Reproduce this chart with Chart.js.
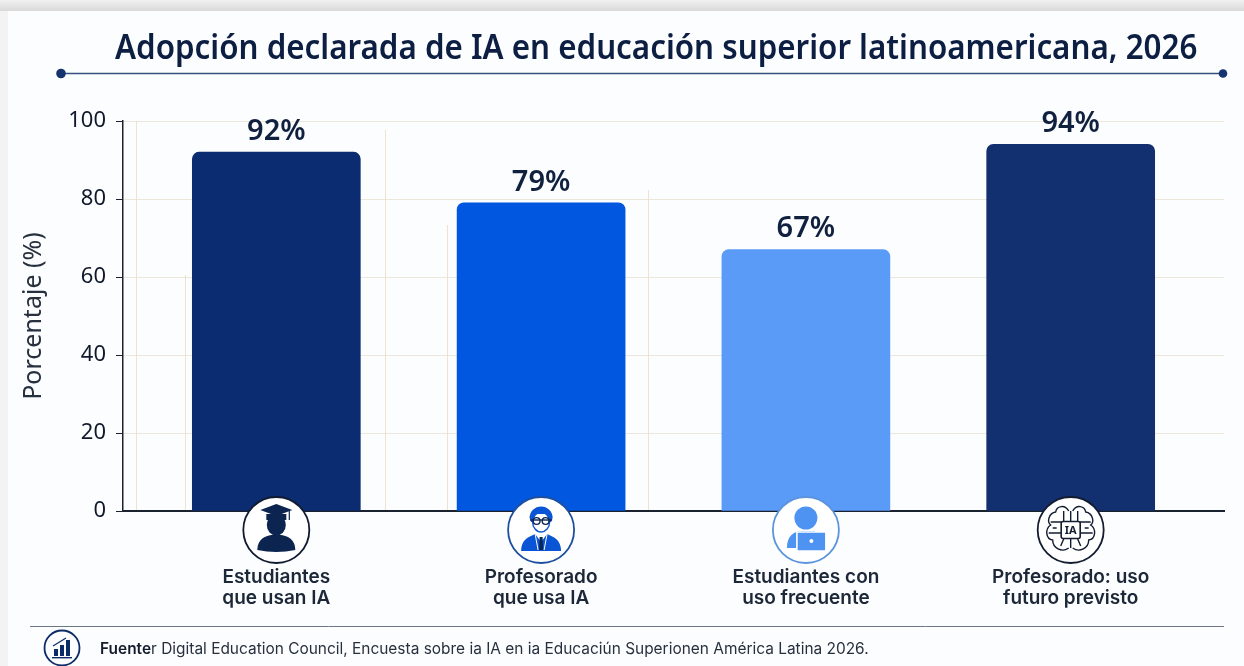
<!DOCTYPE html>
<html lang="es">
<head>
<meta charset="utf-8">
<style>
html,body{margin:0;padding:0;width:1244px;height:666px;overflow:hidden;background:#f3f3f3}
#band{position:absolute;left:0;top:0;width:1244px;height:11px;background:linear-gradient(#f1f1f1,#d9d9d9)}
#card{position:absolute;left:8px;top:11px;width:1236px;height:655px;background:#fcfdfe}
canvas{position:absolute;left:0;top:0}
#title{position:absolute;left:115px;top:23px;margin:0;font:600 34.5px "Noto Sans",sans-serif;color:#0c1e42;white-space:nowrap;line-height:46px;transform-origin:0 50%;transform:scaleX(.908)}
#source{position:absolute;left:100px;top:639px;font:400 15.45px "Inter","Noto Sans",sans-serif;color:#27303e;white-space:nowrap;line-height:20px}
#source b{font-weight:600;color:#141c2c}
</style>
</head>
<body>
<div id="band"></div>
<div id="card"></div>
<canvas id="c" width="1244" height="666"></canvas>
<h1 id="title">Adopción declarada de IA en educación superior latinoamericana, 2026</h1>
<div id="source"><b>Fuente</b>r Digital Education Council, Encuesta sobre ia IA en ia Educaciún Superionen América Latina 2026.</div>
<script src="https://cdn.jsdelivr.net/npm/chart.js@4/dist/chart.umd.min.js"></script>
<script>
const categories = [
  ["Estudiantes", "que usan IA"],
  ["Profesorado", "que usa IA"],
  ["Estudiantes con", "uso frecuente"],
  ["Profesorado: uso", "futuro previsto"]
];
const values = [92, 79, 67, 94];
const valueLabels = ["92%", "79%", "67%", "94%"];
const barColors = ["#0b2c70", "#0257e0", "#5a9bf8", "#12306f"];
const yTicks = [0, 20, 40, 60, 80, 100];

const NAVY = "#0b2c66", INK = "#10203f";

function circle(ctx, x, y, r) { ctx.beginPath(); ctx.arc(x, y, r, 0, Math.PI * 2); }

function iconStudent(ctx) {
  ctx.fillStyle = "#0c2550";
  ctx.beginPath(); ctx.moveTo(-16, -20); ctx.lineTo(0, -26); ctx.lineTo(16, -20); ctx.lineTo(0, -14); ctx.closePath(); ctx.fill();
  ctx.beginPath(); ctx.moveTo(-10, -16); ctx.lineTo(10, -16); ctx.lineTo(10, -10); ctx.lineTo(-10, -10); ctx.closePath(); ctx.fill();
  ctx.strokeStyle = "#0c2550"; ctx.lineWidth = 1.2;
  ctx.beginPath(); ctx.moveTo(13, -19); ctx.lineTo(13, -10); ctx.stroke();
  ctx.beginPath(); ctx.ellipse(0, -5, 9.5, 10.5, 0, 0, Math.PI * 2); ctx.fill();
  ctx.beginPath(); ctx.moveTo(-19, 20); ctx.bezierCurveTo(-19, 9, -11, 6, -5, 5); ctx.lineTo(5, 5); ctx.bezierCurveTo(11, 6, 19, 9, 19, 20);
  ctx.quadraticCurveTo(0, 24, -19, 20); ctx.fill();
}
function iconProfessor(ctx) {
  const blue = "#0a55d6";
  ctx.fillStyle = blue; ctx.strokeStyle = blue;
  ctx.beginPath(); ctx.arc(0, -12, 11.5, Math.PI, 0); ctx.lineTo(10, -8); ctx.lineTo(-10, -8); ctx.closePath(); ctx.fill();
  ctx.fillStyle = "#ffffff"; ctx.beginPath(); ctx.ellipse(0, -8, 8.5, 10, 0, 0, Math.PI * 2); ctx.fill();
  ctx.strokeStyle = blue; ctx.lineWidth = 1.4; ctx.stroke();
  ctx.fillStyle = blue; ctx.beginPath(); ctx.ellipse(0, -16, 9, 4, 0, Math.PI, 0); ctx.fill();
  ctx.strokeStyle = "#0c2550"; ctx.lineWidth = 1.4;
  circle(ctx, -4.5, -9, 3.4); ctx.stroke(); circle(ctx, 4.5, -9, 3.4); ctx.stroke();
  ctx.beginPath(); ctx.moveTo(-11, -10); ctx.lineTo(11, -10); ctx.stroke();
  ctx.fillStyle = blue;
  ctx.beginPath(); ctx.moveTo(-20, 21); ctx.bezierCurveTo(-20, 10, -13, 7, -6, 4); ctx.lineTo(0, 12); ctx.lineTo(6, 4); ctx.bezierCurveTo(13, 7, 20, 10, 20, 21); ctx.closePath(); ctx.fill();
  ctx.strokeStyle = "#ffffff"; ctx.lineWidth = 1;
  ctx.beginPath(); ctx.moveTo(-6, 4); ctx.lineTo(-3, 20); ctx.moveTo(6, 4); ctx.lineTo(3, 20); ctx.stroke();
  ctx.fillStyle = "#0c2550"; ctx.beginPath(); ctx.moveTo(-1.5, 7); ctx.lineTo(1.5, 7); ctx.lineTo(2, 20); ctx.lineTo(-2, 20); ctx.closePath(); ctx.fill();
}
function iconLaptop(ctx) {
  const blue = "#4f93f2";
  ctx.fillStyle = blue;
  circle(ctx, 0, -12, 11.5); ctx.fill();
  ctx.beginPath(); ctx.moveTo(-19, 18); ctx.bezierCurveTo(-19, 6, -12, 1, -4, 1); ctx.lineTo(9, 1); ctx.lineTo(12, 18); ctx.closePath(); ctx.fill();
  ctx.strokeStyle = "#ffffff"; ctx.lineWidth = 1.6;
  ctx.fillStyle = blue; ctx.beginPath(); ctx.rect(-9, 2, 29, 19); ctx.fill(); ctx.stroke();
  ctx.fillStyle = "#ffffff"; circle(ctx, 5.5, 11, 2); ctx.fill();
}
function iconBrain(ctx) {
  ctx.strokeStyle = "#131c30"; ctx.lineWidth = 1.4; ctx.fillStyle = "#131c30";
  [-1, 1].forEach(s => {
    ctx.beginPath();
    ctx.moveTo(s * 2, -19);
    ctx.bezierCurveTo(s * 6, -26, s * 14, -24, s * 15, -18);
    ctx.bezierCurveTo(s * 22, -17, s * 24, -8, s * 20, -5);
    ctx.bezierCurveTo(s * 26, -1, s * 25, 9, s * 18, 10);
    ctx.bezierCurveTo(s * 18, 18, s * 9, 23, s * 2, 18);
    ctx.stroke();
    ctx.beginPath();
    ctx.moveTo(s * 9, -8); ctx.lineTo(s * 20, -8);
    ctx.moveTo(s * 9, 3); ctx.lineTo(s * 22, 3);
    ctx.moveTo(s * 7, 9); ctx.lineTo(s * 10, 16);
    ctx.moveTo(s * 7, -9); ctx.lineTo(s * 7, -19);
    ctx.moveTo(s * 14, -2); ctx.lineTo(s * 18, -2);
    ctx.stroke();
  });
  ctx.beginPath(); ctx.moveTo(0, -19); ctx.lineTo(0, -9); ctx.moveTo(0, 9); ctx.lineTo(0, 18); ctx.stroke();
  ctx.fillStyle = "#ffffff"; ctx.lineWidth = 1.6;
  ctx.beginPath(); ctx.roundRect(-9.5, -8.5, 19, 17, 2); ctx.fill(); ctx.stroke();
  ctx.fillStyle = "#131c30"; ctx.font = "700 11px 'Noto Sans'"; ctx.textAlign = "center"; ctx.textBaseline = "middle";
  ctx.fillText("IA", 0, 0.5);
}
const iconDrawers = [iconStudent, iconProfessor, iconLaptop, iconBrain];
const iconRings = ["#101a30", "#1d4f9e", "#5b94dc", "#131c30"];

const pagePlugin = {
  id: "pageDecor",
  beforeDraw(chart) {
    const ctx = chart.ctx;
    ctx.save();
    ctx.strokeStyle = "rgba(232,215,185,0.7)"; ctx.lineWidth = 1;
    [[136, 121], [185, 275], [385, 130], [447, 225], [648, 190]].forEach(g => {
      ctx.beginPath(); ctx.moveTo(g[0] + .5, g[1]); ctx.lineTo(g[0] + .5, 511); ctx.stroke();
    });
    ctx.strokeStyle = "#33507e"; ctx.lineWidth = 1.4;
    ctx.beginPath(); ctx.moveTo(61, 73.5); ctx.lineTo(1223, 73.5); ctx.stroke();
    ctx.fillStyle = "#14336f";
    circle(ctx, 61, 73.5, 4.8); ctx.fill();
    circle(ctx, 1223, 73.5, 4.3); ctx.fill();
    ctx.strokeStyle = "#6d7886"; ctx.lineWidth = 1;
    ctx.beginPath(); ctx.moveTo(30, 626.5); ctx.lineTo(1224, 626.5); ctx.stroke();
    ctx.strokeStyle = NAVY; ctx.lineWidth = 1.8;
    circle(ctx, 62, 648, 17.5); ctx.stroke();
    ctx.fillStyle = NAVY;
    ctx.fillRect(54, 649, 4, 7); ctx.fillRect(60, 645, 4, 11); ctx.fillRect(66, 640, 4, 16);
    ctx.fillRect(52, 657, 20, 1.4);
    ctx.lineWidth = 1.3;
    ctx.beginPath(); ctx.moveTo(53, 646); ctx.lineTo(66, 638); ctx.stroke();
    ctx.restore();
  },
  afterDraw(chart) {
    const ctx = chart.ctx, xs = chart.scales.x;
    ctx.save();
    categories.forEach((_, i) => {
      const x = xs.getPixelForValue(i), y = 530;
      ctx.save();
      ctx.fillStyle = "#ffffff"; ctx.strokeStyle = iconRings[i]; ctx.lineWidth = 1.8;
      circle(ctx, x, y, 33); ctx.fill(); ctx.stroke();
      ctx.translate(x, y);
      iconDrawers[i](ctx);
      ctx.restore();
    });
    const meta = chart.getDatasetMeta(0);
    ctx.font = "600 29px 'Noto Sans'"; ctx.fillStyle = INK; ctx.textAlign = "center"; ctx.textBaseline = "middle";
    meta.data.forEach((bar, i) => ctx.fillText(valueLabels[i], bar.x, bar.y - 20.5));
    ctx.restore();
  }
};

new Chart(document.getElementById("c"), {
  type: "bar",
  data: {
    labels: categories,
    datasets: [{
      label: "Porcentaje (%)",
      data: values.map((v, i) => ({ x: i, y: v })),
      backgroundColor: barColors,
      barThickness: 168,
      borderRadius: 7,
      borderSkipped: "bottom"
    }]
  },
  plugins: [pagePlugin],
  options: {
    responsive: false,
    animation: false,
    layout: { padding: { top: 121, right: 20, left: 0, bottom: 0 } },
    plugins: { legend: { display: false }, title: { display: false }, tooltip: { enabled: false } },
    scales: {
      x: {
        type: "linear",
        offset: false,
        min: -0.579,
        max: 3.579,
        afterBuildTicks(s) { s.ticks = categories.map((_, i) => ({ value: i })); },
        afterFit(s) { s.height = 155; },
        ticks: {
          autoSkip: false, maxRotation: 0, padding: 56,
          callback: (v) => categories[v],
          color: "#1c2738",
          font: { family: "Inter", size: 19, weight: "600", lineHeight: 1.105 }
        },
        grid: { display: false, drawTicks: false },
        border: { display: true, color: "#1a2230", width: 2 }
      },
      y: {
        min: 0, max: 100,
        afterBuildTicks(s) { s.ticks = yTicks.map(v => ({ value: v })); },
        afterFit(s) { s.width = 123; },
        title: {
          display: true, text: "Porcentaje (%)", color: "#26303f",
          font: { family: "'Noto Sans'", size: 25, weight: "400" },
          padding: { top: 19, bottom: 0 }
        },
        ticks: {
          color: "#10192b", padding: 10,
          font: { family: "'Noto Sans'", size: 22, weight: "400" }
        },
        grid: {
          color: "rgba(232,222,205,0.75)", tickColor: "#1a2230", tickLength: 7, lineWidth: 1
        },
        border: { display: true, color: "#1a2230", width: 1.5 }
      }
    }
  }
});
</script>
</body>
</html>
